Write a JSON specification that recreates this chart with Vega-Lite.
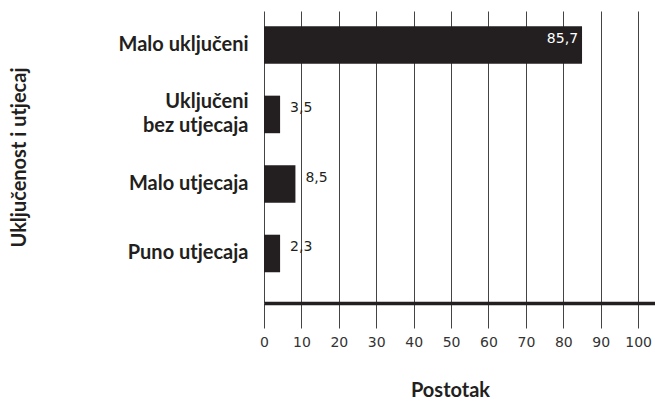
{
  "$schema": "https://vega.github.io/schema/vega-lite/v6.json",
  "width": 391,
  "height": 292,
  "autosize": {"type": "none"},
  "padding": {"left": 264, "top": 11, "right": 0, "bottom": 99},
  "background": "white",
  "data": {
    "values": [
      {"kategorija": "Malo uključeni", "bar": 85.0, "pct": "85,7", "inside": true},
      {"kategorija": "Uključeni|bez utjecaja", "bar": 4.3, "pct": "3,5", "inside": false},
      {"kategorija": "Malo utjecaja", "bar": 8.4, "pct": "8,5", "inside": false},
      {"kategorija": "Puno utjecaja", "bar": 4.3, "pct": "2,3", "inside": false}
    ]
  },
  "encoding": {
    "y": {
      "field": "kategorija",
      "type": "nominal",
      "sort": null,
      "scale": {"paddingInner": 0.46, "paddingOuter": 0.33, "align": 0.33},
      "axis": {
        "title": "Uključenost i utjecaj",
        "titleFont": "Lato",
        "titleFontSize": 20,
        "titleFontWeight": "bold",
        "titleColor": "#231f20",
        "titleX": -245,
        "titleY": 146,
        "titleAngle": -90,
        "titleBaseline": "middle",
        "titleAlign": "center",
        "labelExpr": "split(datum.label, '|')",
        "labelFont": "Lato",
        "labelFontSize": 20,
        "labelFontWeight": "bold",
        "labelColor": "#231f20",
        "labelLineHeight": 24,
        "labelOffset": {"condition": {"test": "indexof(datum.value, '|') >= 0", "value": -12}, "value": 0},
        "labelPadding": 16,
        "labelLimit": 300,
        "domain": false,
        "ticks": false,
        "grid": false
      }
    }
  },
  "layer": [
    {
      "mark": {"type": "bar", "color": "#231f20"},
      "encoding": {
        "x": {
          "field": "bar",
          "type": "quantitative",
          "scale": {"domain": [0, 104.5], "nice": false, "zero": true},
          "axis": {
            "title": "Postotak",
            "titleFont": "Lato",
            "titleFontSize": 20,
            "titleFontWeight": "bold",
            "titleColor": "#231f20",
            "titleX": 186,
            "titleAlign": "center",
            "titlePadding": 31,
            "values": [0, 10, 20, 30, 40, 50, 60, 70, 80, 90, 100],
            "tickCount": 30,
            "labelFont": "DejaVu Sans",
            "labelFontSize": 14,
            "labelColor": "#333333",
            "labelPadding": 7,
            "labelOverlap": false,
            "labelFlush": false,
            "tickSize": 25,
            "tickColor": "#444444",
            "tickWidth": 1,
            "domainColor": "#231f20",
            "domainWidth": 3.5,
            "grid": true,
            "gridColor": "#444444",
            "gridWidth": 1,
            "gridOpacity": 1
          }
        }
      }
    },
    {
      "transform": [{"filter": "datum.inside"}],
      "mark": {"type": "text", "align": "right", "baseline": "middle", "dx": -4, "dy": -6, "color": "white", "font": "DejaVu Sans", "fontSize": 14},
      "encoding": {
        "x": {"field": "bar", "type": "quantitative"},
        "text": {"field": "pct"}
      }
    },
    {
      "transform": [{"filter": "!datum.inside"}],
      "mark": {"type": "text", "align": "left", "baseline": "middle", "dx": 10, "dy": -6, "color": "#231f20", "font": "DejaVu Sans", "fontSize": 14},
      "encoding": {
        "x": {"field": "bar", "type": "quantitative"},
        "text": {"field": "pct"}
      }
    }
  ],
  "config": {"view": {"stroke": null}}
}
